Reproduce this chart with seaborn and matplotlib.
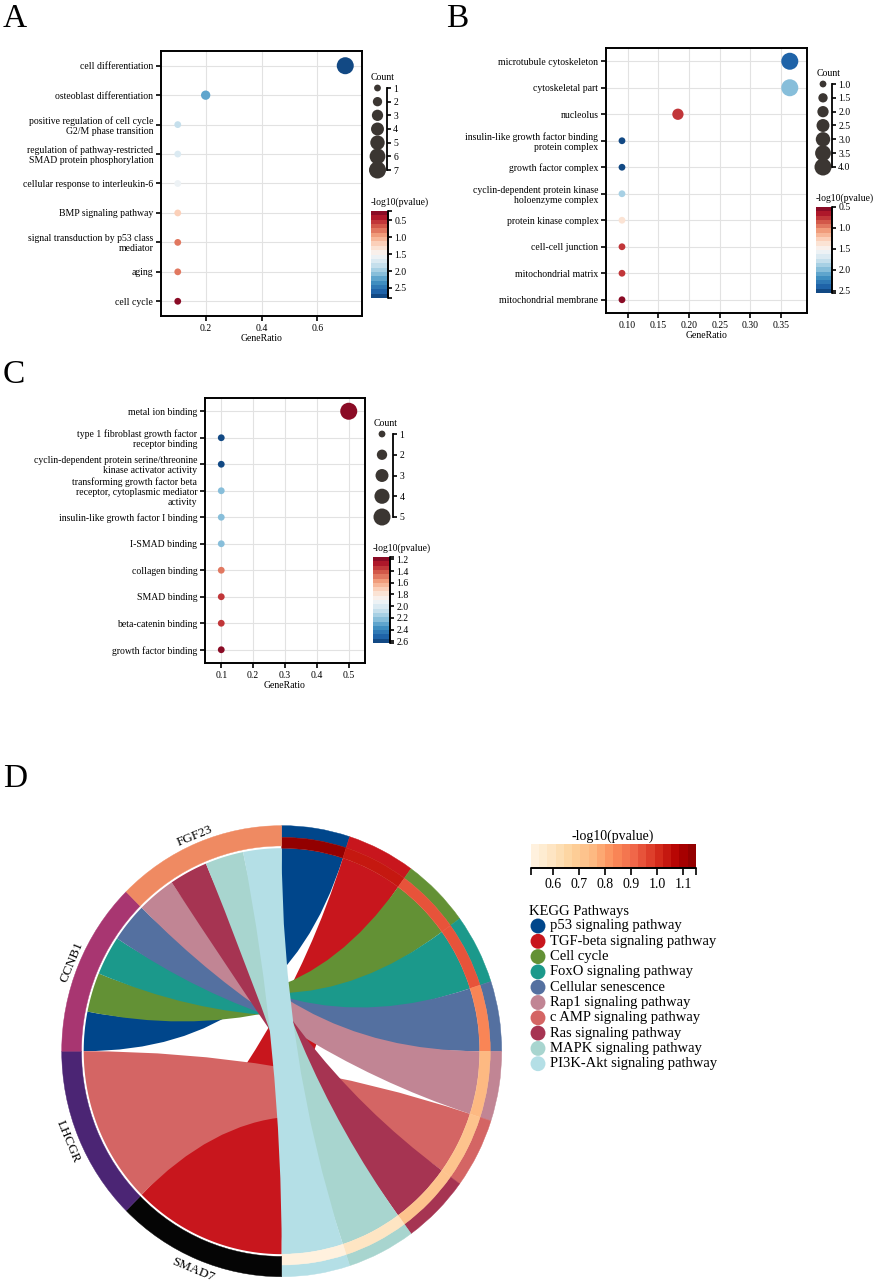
import numpy as np
import pandas as pd
import matplotlib
matplotlib.use('Agg')
import matplotlib.pyplot as plt
import seaborn as sns
from matplotlib.colors import Normalize, ListedColormap
from matplotlib.cm import ScalarMappable
from matplotlib.path import Path
from matplotlib.patches import PathPatch, Wedge

# ---------------- data ----------------
# A: biological process
bp_terms = ['cell differentiation', 'osteoblast differentiation',
            'positive regulation of cell cycle\nG2/M phase transition',
            'regulation of pathway-restricted\nSMAD protein phosphorylation',
            'cellular response to interleukin-6', 'BMP signaling pathway',
            'signal transduction by p53 class\nmediator', 'aging', 'cell cycle']
bp_ratio = [0.7, 0.2, 0.1, 0.1, 0.1, 0.1, 0.1, 0.1, 0.1]
bp_count = [7, 2, 1, 1, 1, 1, 1, 1, 1]
bp_logp = [2.80, 2.27, 1.82, 1.64, 1.60, 1.15, 0.82, 0.78, 0.22]

# B: cellular component
cc_terms = ['microtubule cytoskeleton', 'cytoskeletal part', 'nucleolus',
            'insulin-like growth factor binding\nprotein complex',
            'growth factor complex',
            'cyclin-dependent protein kinase\nholoenzyme complex',
            'protein kinase complex', 'cell-cell junction',
            'mitochondrial matrix', 'mitochondrial membrane']
cc_ratio = [0.364, 0.364, 0.182, 0.091, 0.091, 0.091, 0.091, 0.091, 0.091, 0.091]
cc_count = [4, 4, 2, 1, 1, 1, 1, 1, 1, 1]
cc_logp = [2.35, 1.95, 0.71, 2.55, 2.50, 1.85, 1.38, 0.72, 0.74, 0.50]

# C: molecular function
mf_terms = ['metal ion binding',
            'type 1 fibroblast growth factor\nreceptor binding',
            'cyclin-dependent protein serine/threonine\nkinase activator activity',
            'transforming growth factor beta\nreceptor, cytoplasmic mediator\nactivity',
            'insulin-like growth factor I binding', 'I-SMAD binding',
            'collagen binding', 'SMAD binding', 'beta-catenin binding',
            'growth factor binding']
mf_ratio = [0.5, 0.1, 0.1, 0.1, 0.1, 0.1, 0.1, 0.1, 0.1, 0.1]
mf_count = [5, 1, 1, 1, 1, 1, 1, 1, 1, 1]
mf_logp = [1.16, 2.63, 2.60, 2.22, 2.22, 2.22, 1.46, 1.38, 1.38, 1.20]

# D: KEGG chord
kegg_pathways = ['p53 signaling pathway', 'TGF-beta signaling pathway', 'Cell cycle',
                 'FoxO signaling pathway', 'Cellular senescence', 'Rap1 signaling pathway',
                 'c AMP signaling pathway', 'Ras signaling pathway',
                 'MAPK signaling pathway', 'PI3K-Akt signaling pathway']
kegg_logp = [1.15, 1.05, 0.94, 0.93, 0.86, 0.74, 0.73, 0.71, 0.58, 0.515]
kegg_gene = ['CCNB1', 'SMAD7', 'CCNB1', 'CCNB1', 'CCNB1',
             'FGF23', 'LHCGR', 'FGF23', 'FGF23', 'FGF23']
chord_genes = ['SMAD7', 'LHCGR', 'CCNB1', 'FGF23']

# ---------------- style ----------------
pathway_colors = ['#00468B', '#C8161D', '#639135', '#1B998B', '#5470A0',
                  '#C18594', '#D46564', '#A63452', '#A8D5CF', '#B4DFE6']
gene_colors = {'SMAD7': '#050505', 'LHCGR': '#4B2574', 'CCNB1': '#A83671', 'FGF23': '#EF8A62'}

sns.set_theme(style='white')
plt.rcParams['font.family'] = ['Liberation Serif', 'DejaVu Serif']
plt.rcParams['axes.unicode_minus'] = False
plt.rcParams['text.color'] = 'black'
plt.rcParams['axes.labelcolor'] = 'black'

rdbu = ListedColormap(sns.color_palette('RdBu', 20))
orrd = ListedColormap(sns.color_palette('OrRd', 20))

W, H = 879, 1288
fig = plt.figure(figsize=(W / 100, H / 100), dpi=100)


def px_axes(x0, y0, x1, y1):
    return fig.add_axes([x0 / W, 1 - y1 / H, (x1 - x0) / W, (y1 - y0) / H])


def px_text(x, y, s, **kw):
    fig.text(x / W, 1 - y / H, s, **kw)


def end_ticks(norm, ticks, fmt='%.1f'):
    # ticks at both ends of the bar (unlabelled) plus the labelled ones
    pos, lab = [], []
    if min(abs(norm.vmin - t) for t in ticks) > 1e-6:
        pos.append(norm.vmin); lab.append('')
    pos += list(ticks); lab += [fmt % t for t in ticks]
    if min(abs(norm.vmax - t) for t in ticks) > 1e-6:
        pos.append(norm.vmax); lab.append('')
    return pos, lab


def dot_panel(terms, ratio, count, logp, lay):
    df = pd.DataFrame({'term': terms, 'GeneRatio': ratio, 'Count': count, 'logp': logp})
    norm = Normalize(df.logp.min(), df.logp.max())
    cnorm = (df.Count.min(), df.Count.max())
    sizes = (24, 150)

    ax = px_axes(*lay['ax'])
    ax.set_axisbelow(True)
    sns.scatterplot(data=df, x='GeneRatio', y='term', hue='logp', size='Count',
                    palette=rdbu, hue_norm=norm, sizes=sizes, size_norm=cnorm,
                    edgecolor='none', legend=False, ax=ax, zorder=3)
    ax.set_ylim(len(terms) - 0.5, -0.5)
    ax.set_xlim(*lay['xlim'])
    ax.set_xticks(lay['xticks'])
    ax.set_xticklabels([lay['xfmt'] % t for t in lay['xticks']])
    ax.grid(True, color='#e2e2e2', lw=0.8)
    for s in ax.spines.values():
        s.set_visible(True)
        s.set_color('black')
        s.set_linewidth(1.4)
    ax.tick_params(axis='both', which='major', direction='out', length=3.5, width=1.2,
                   pad=2, labelsize=7, colors='black', left=True, bottom=True)
    for lbl in ax.get_yticklabels():
        lbl.set_linespacing(1.15)
    ax.set_ylabel('')
    ax.set_xlabel('GeneRatio', fontsize=7, labelpad=1)

    # count legend
    lx0, ly0, lx1, ly1 = lay['cnt']
    lax = px_axes(lx0, ly0, lx1, ly1)
    vals = lay['cnt_ticks']
    sns.scatterplot(x=[0.5] * len(vals), y=vals, size=vals, sizes=sizes, size_norm=cnorm,
                    color='#3b3632', edgecolor='none', legend=False, ax=lax, clip_on=False)
    lax.set_xlim(0, 1)
    lax.set_ylim(vals[-1], vals[0])
    lax.patch.set_alpha(0)
    for k, s in lax.spines.items():
        s.set_visible(k == 'right')
    lax.spines['right'].set_color('black')
    lax.spines['right'].set_linewidth(1.3)
    lax.spines['right'].set_bounds(vals[0], vals[-1])
    lax.yaxis.tick_right()
    lax.set_yticks(vals)
    lax.set_yticklabels([lay['cnt_fmt'] % v for v in vals])
    lax.set_xticks([])
    lax.tick_params(axis='y', length=3, width=1.2, pad=1.5, labelsize=7, colors='black', right=True)
    px_text(lx0 + 3, ly0 - 11, 'Count', fontsize=7, ha='left', va='center')

    # colour bar
    cx0, cy0, cx1, cy1 = lay['cb']
    cax = px_axes(cx0, cy0, cx1, cy1)
    cb = fig.colorbar(ScalarMappable(norm=norm, cmap=rdbu), cax=cax)
    cb.outline.set_visible(False)
    cax.invert_yaxis()
    pos, lab = end_ticks(norm, lay['cb_ticks'])
    cb.set_ticks(pos)
    cb.set_ticklabels(lab)
    cax.tick_params(axis='y', length=3, width=1.2, pad=1.5, labelsize=7, colors='black', right=True)
    cax.axvline(1, color='black', lw=1.4, clip_on=False)
    px_text(cx0, cy0 - 9, '-log10(pvalue)', fontsize=7, ha='left', va='center')


dot_panel(bp_terms, bp_ratio, bp_count, bp_logp, dict(
    ax=(161, 51, 362, 316), xlim=(0.04, 0.76), xticks=[0.2, 0.4, 0.6], xfmt='%.1f',
    cnt=(368, 88, 387, 170), cnt_ticks=[1, 2, 3, 4, 5, 6, 7], cnt_fmt='%d',
    cb=(371, 211, 388, 298), cb_ticks=[0.5, 1.0, 1.5, 2.0, 2.5]))

dot_panel(cc_terms, cc_ratio, cc_count, cc_logp, dict(
    ax=(606, 48, 807, 313), xlim=(0.065, 0.392),
    xticks=[0.10, 0.15, 0.20, 0.25, 0.30, 0.35], xfmt='%.2f',
    cnt=(814, 84, 832, 167), cnt_ticks=[1.0, 1.5, 2.0, 2.5, 3.0, 3.5, 4.0], cnt_fmt='%.1f',
    cb=(816, 207, 832, 293), cb_ticks=[0.5, 1.0, 1.5, 2.0, 2.5]))

dot_panel(mf_terms, mf_ratio, mf_count, mf_logp, dict(
    ax=(205, 398, 365, 663), xlim=(0.049, 0.551),
    xticks=[0.1, 0.2, 0.3, 0.4, 0.5], xfmt='%.1f',
    cnt=(371, 434, 393, 517), cnt_ticks=[1, 2, 3, 4, 5], cnt_fmt='%d',
    cb=(373, 557, 390, 643), cb_ticks=[1.2, 1.4, 1.6, 1.8, 2.0, 2.2, 2.4, 2.6]))

# ---------------- D: chord ----------------
dax = px_axes(17.7, 760, 545.7, 1288)
dax.set_xlim(-1.2, 1.2)
dax.set_ylim(-1.050, 1.291)
dax.axis('off')


def polar(theta, r):
    a = np.deg2rad(90 - np.asarray(theta))
    return r * np.cos(a), r * np.sin(a)


def arc_pts(t1, t2, r, n=60):
    x, y = polar(np.linspace(t1, t2, n), r)
    return np.column_stack([x, y])


def ribbon(g1, g2, p1, p2, r, color):
    a = arc_pts(g1, g2, r)
    b = arc_pts(p1, p2, r)
    verts = list(map(tuple, a)) + [(0, 0), tuple(b[0])] + list(map(tuple, b[1:])) \
        + [(0, 0), tuple(a[0]), tuple(a[0])]
    codes = [Path.MOVETO] + [Path.LINETO] * (len(a) - 1) + [Path.CURVE3] * 2 \
        + [Path.LINETO] * (len(b) - 1) + [Path.CURVE3] * 2 + [Path.CLOSEPOLY]
    dax.add_patch(PathPatch(Path(verts, codes), facecolor=color, edgecolor='none', zorder=2))


def ring(t1, t2, r_out, width, color):
    dax.add_patch(Wedge((0, 0), r_out, 90 - t2, 90 - t1, width=width,
                        facecolor=color, edgecolor=color, lw=0.3, zorder=3))


r_in = 0.9
kegg_norm = Normalize(min(kegg_logp), max(kegg_logp))

# pathway spans on the right half, proportional to number of genes
n_links = np.array([1 for _ in kegg_pathways], dtype=float)
p_edges = np.concatenate([[0], np.cumsum(n_links / n_links.sum() * 180)])
# gene spans on the left half, equal share each
g_edges = np.linspace(180, 360, len(chord_genes) + 1)

gene_slots = {}
for gi, g in enumerate(chord_genes):
    links = [i for i, gg in enumerate(kegg_gene) if gg == g]
    e = np.linspace(g_edges[gi], g_edges[gi + 1], len(links) + 1)
    for k, i in enumerate(links):
        gene_slots[i] = (e[k], e[k + 1])

for i, pw in enumerate(kegg_pathways):
    g1, g2 = gene_slots[i]
    ribbon(g1, g2, p_edges[i], p_edges[i + 1], r_in, pathway_colors[i])

for i, pw in enumerate(kegg_pathways):
    ring(p_edges[i], p_edges[i + 1], 1.0, 0.052, pathway_colors[i])
    ring(p_edges[i], p_edges[i + 1], 0.948, 0.048, orrd(kegg_norm(kegg_logp[i])))

for gi, g in enumerate(chord_genes):
    ring(g_edges[gi], g_edges[gi + 1], 1.0, 0.09, gene_colors[g])
    tm = (g_edges[gi] + g_edges[gi + 1]) / 2
    lower = tm < 270
    x, y = polar(tm, 1.05 if lower else 1.03)
    rot = 180 - tm if lower else 360 - tm
    dax.text(x, y, g, rotation=rot, rotation_mode='anchor', ha='center', va='center',
             fontsize=9.5, zorder=5)

# colour bar for D
kax = px_axes(531, 844, 696, 868)
kcb = fig.colorbar(ScalarMappable(norm=kegg_norm, cmap=orrd), cax=kax, orientation='horizontal')
kcb.outline.set_visible(False)
pos, lab = end_ticks(kegg_norm, [0.6, 0.7, 0.8, 0.9, 1.0, 1.1])
kcb.set_ticks(pos)
kcb.set_ticklabels(lab)
kax.tick_params(axis='x', length=5, width=1.2, pad=2, labelsize=10, colors='black', bottom=True)
kax.axhline(0, color='black', lw=1.4, clip_on=False)
px_text(613, 836, '-log10(pvalue)', fontsize=10, ha='center', va='center')

# pathway legend
lgax = px_axes(525, 900, 760, 1075)
lgax.set_xlim(525, 760)
lgax.set_ylim(1075, 900)
lgax.axis('off')
leg_df = pd.DataFrame({'pathway': kegg_pathways,
                       'x': 538.0, 'y': 926 + 15.3 * np.arange(len(kegg_pathways))})
sns.scatterplot(data=leg_df, x='x', y='y', hue='pathway', palette=pathway_colors,
                s=115, edgecolor='none', legend=False, ax=lgax, clip_on=False)
for _, row in leg_df.iterrows():
    lgax.text(550, row.y, row.pathway, fontsize=10.5, ha='left', va='center')
lgax.text(529, 912, 'KEGG Pathways', fontsize=10.5, ha='left', va='center')

# panel letters
px_text(3, 27, 'A', fontsize=24, va='baseline')
px_text(446, 27, 'B', fontsize=24, va='baseline')
px_text(3, 383, 'C', fontsize=24, va='baseline')
px_text(3, 787, 'D', fontsize=24, va='baseline')

fig.savefig('out.png', dpi=100)
